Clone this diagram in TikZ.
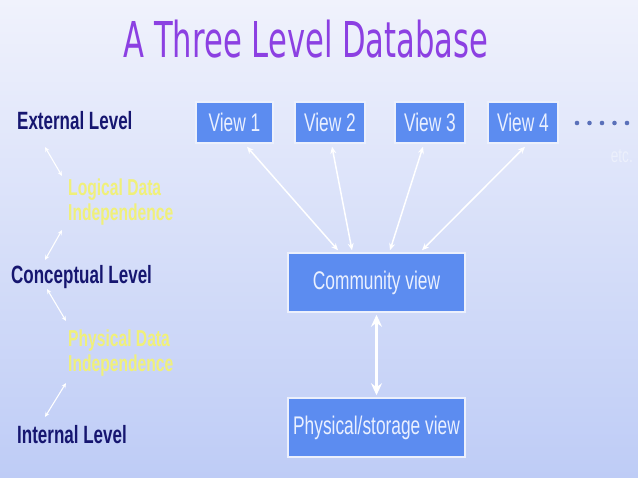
\documentclass[tikz,border=0pt]{standalone}
\usepackage{fontspec}
\usetikzlibrary{arrows.meta,calc}
\newfontfamily\narrowfont{Liberation Sans}[FakeStretch=0.68]
\newfontfamily\titlefont{DejaVu Sans}[FakeStretch=0.62]
\definecolor{bgtop}{RGB}{240,242,252}
\definecolor{bgbot}{RGB}{190,204,246}
\definecolor{titlepurple}{RGB}{140,64,226}
\definecolor{boxblue}{RGB}{92,140,240}
\definecolor{boxedge}{RGB}{236,240,252}
\definecolor{boxtext}{RGB}{234,240,255}
\definecolor{navy}{RGB}{22,22,112}
\definecolor{lightyellow}{RGB}{240,240,122}
\definecolor{dotblue}{RGB}{90,112,185}
\tikzset{
  viewbox/.style={draw=boxedge, line width=1.5pt, fill=boxblue, text=boxtext,
    font=\narrowfont\fontsize{25.5}{30}\selectfont, inner sep=0pt, minimum height=41pt},
  bigbox/.style={viewbox, minimum width=177pt, minimum height=59pt},
  levellabel/.style={anchor=base west, text=navy, inner sep=0pt,
    font=\narrowfont\bfseries\fontsize{25}{30}\selectfont},
  indeplabel/.style={anchor=base west, text=lightyellow, inner sep=0pt, align=left,
    font=\narrowfont\bfseries\fontsize{23}{25.5}\selectfont},
  dblarrow/.style={draw=white, line width=1.5pt,
    {Stealth[length=7pt,width=6pt]}-{Stealth[length=7pt,width=6pt]}},
  smallarrow/.style={draw=white, line width=1.1pt,
    {Stealth[length=5pt,width=4.5pt]}-{Stealth[length=5pt,width=4.5pt]}},
  thickarrow/.style={draw=white, line width=3pt,
    {Stealth[length=12pt,width=11pt]}-{Stealth[length=12pt,width=11pt]}}
}
\begin{document}
\begin{tikzpicture}[x=1pt,y=-1pt]
\shade[top color=bgtop, bottom color=bgbot] (0,0) rectangle (638,478);
\useasboundingbox (0,0) rectangle (638,478);

\node[anchor=base, text=titlepurple, inner sep=0pt,
  font=\titlefont\fontsize{49.4}{55}\selectfont] (title) at (306,58) {A Three Level Database};

% views
\node[viewbox, minimum width=77pt] (v1) at (234.5,122.5) {View 1};
\node[viewbox, minimum width=70pt] (v2) at (330,122.5) {View 2};
\node[viewbox, minimum width=70pt] (v3) at (430,122.5) {View 3};
\node[viewbox, minimum width=70pt] (v4) at (523,122.5) {View 4};

\node[bigbox] (comm) at (376.5,282.5) {Community view};
\node[bigbox] (phys) at (376.5,427.5) {Physical/storage view};

% dots and etc.
\foreach \i/\xx in {1/577,2/589.5,3/602,4/614.5,5/627}
  \fill[dotblue] (\xx,123) circle (2.3pt) coordinate (dot\i);
\node[anchor=base east, text=boxedge, inner sep=0pt,
  font=\narrowfont\fontsize{20}{24}\selectfont] (etc) at (633,163) {etc.};

% arrows views <-> community
\draw[dblarrow] ([xshift=12.5pt,yshift=-3pt]v1.south) -- ([xshift=-38.5pt,yshift=2pt]comm.north);
\draw[dblarrow] ([xshift=2pt,yshift=-3pt]v2.south) -- ([xshift=-24.5pt,yshift=2pt]comm.north);
\draw[dblarrow] ([xshift=-7pt,yshift=-3pt]v3.south) -- ([xshift=13.5pt,yshift=2pt]comm.north);
\draw[dblarrow] ([xshift=2pt,yshift=-3pt]v4.south) -- ([xshift=45.5pt,yshift=2pt]comm.north);

\draw[thickarrow] ([yshift=-2pt]comm.south) -- ([yshift=2pt]phys.north);

% left side
\node[levellabel] (ext) at (17,130) {External Level};
\node[levellabel] (con) at (11,283.5) {Conceptual Level};
\node[levellabel] (int) at (17,444) {Internal Level};

\node[indeplabel] (lind) at (68,221) {Logical Data\\Independence};
\node[indeplabel] (pind) at (68,372) {Physical Data\\Independence};

\coordinate (a1s) at (45,147);
\coordinate (a1e) at (62,176);
\coordinate (a2s) at (62,230);
\coordinate (a2e) at (45,260);
\coordinate (a3s) at (47,289);
\coordinate (a3e) at (66,321);
\coordinate (a4s) at (66,383);
\coordinate (a4e) at (45,417);
\draw[smallarrow] (a1s) -- (a1e);
\draw[smallarrow] (a2s) -- (a2e);
\draw[smallarrow] (a3s) -- (a3e);
\draw[smallarrow] (a4s) -- (a4e);
\end{tikzpicture}
\end{document}
